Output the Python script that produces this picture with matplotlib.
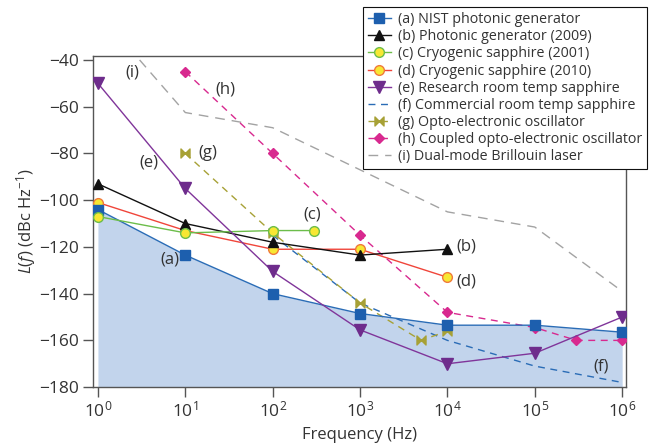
import numpy as np
import matplotlib
matplotlib.use('Agg')
import matplotlib.pyplot as plt
from matplotlib.path import Path

plt.rcParams['font.family'] = ['Open Sans', 'DejaVu Sans']
plt.rcParams['mathtext.fontset'] = 'custom'
plt.rcParams['mathtext.rm'] = 'Open Sans'
plt.rcParams['mathtext.it'] = 'Open Sans:italic'

TXT = '#333333'

# ---- data ----
freq_a = [1, 10, 100, 1e3, 1e4, 1e5, 1e6]
nist_a = [-104, -123.5, -140, -148.5, -153.5, -153.5, -156.5]

freq_b = [1, 10, 100, 1e3, 1e4]
phot_b = [-93, -110, -118, -123.5, -121]

freq_c = [1, 10, 100, 300]
cryo_c = [-107, -114, -113, -113]

freq_d = [1, 10, 100, 1e3, 1e4]
cryo_d = [-101, -113, -121, -121, -133]

freq_e = [1, 10, 100, 1e3, 1e4, 1e5, 1e6]
room_e = [-50, -95, -130.5, -155.5, -170, -165.5, -150]

freq_f = [100, 1e3, 1e4, 1e5, 1e6]
comm_f = [-115, -144, -160, -171, -178]

freq_g = [10, 100, 1e3, 5e3, 1e4]
oeo_g = [-80, -114, -144, -160, -156]

freq_h = [10, 100, 1e3, 1e4, 1e5, 3e5, 1e6]
coeo_h = [-45, -80, -115, -148, -154.5, -160, -160]

freq_i = [3, 10, 100, 1e3, 1e4, 1e5, 1e6]
bril_i = [-40, -62.5, -69, -87, -105, -111.5, -139]

labels = ["(a) NIST photonic generator",
          "(b) Photonic generator (2009)",
          "(c) Cryogenic sapphire (2001)",
          "(d) Cryogenic sapphire (2010)",
          "(e) Research room temp sapphire",
          "(f) Commercial room temp sapphire",
          "(g) Opto-electronic oscillator",
          "(h) Coupled opto-electronic oscillator",
          "(i) Dual-mode Brillouin laser"]

# tag text positions (freq, dBc)
tags = {"(i)": (2.5, -45.5), "(h)": (29, -52.5), "(g)": (18, -80),
        "(e)": (3.8, -84), "(c)": (285, -106), "(a)": (6.7, -125.5),
        "(b)": (16500, -120), "(d)": (16500, -135), "(f)": (5.8e5, -171)}

# bowtie marker for (g)
bowtie = Path([(-1, -1), (0, 0), (-1, 1), (-1, -1), (1, -1), (0, 0), (1, 1), (1, -1)],
              [Path.MOVETO, Path.LINETO, Path.LINETO, Path.CLOSEPOLY,
               Path.MOVETO, Path.LINETO, Path.LINETO, Path.CLOSEPOLY])

fig = plt.figure(figsize=(6.55, 4.46), dpi=100)
ax = fig.add_axes([0.1415, 0.132, 0.8145, 0.743])

ax.fill_between(freq_a, nist_a, -180, color='#c2d4ec', lw=0, zorder=1)
ax.plot(freq_a, nist_a, '-s', color='#2a6cb6', mfc='#1d5fae', mec='#1d5fae', ms=6.5, lw=1, label=labels[0], zorder=5)
ax.plot(freq_b, phot_b, '-^', color='#111111', ms=7.5, lw=1, label=labels[1], zorder=5)
ax.plot(freq_c, cryo_c, '-o', color='#6cbd4a', mfc='#f7e733', mec='#6cbd4a', ms=7, mew=1, lw=1, label=labels[2], zorder=5)
ax.plot(freq_d, cryo_d, '-o', color='#f0453a', mfc='#f7e733', mec='#f07a3a', ms=7, mew=1, lw=1, label=labels[3], zorder=4)
ax.plot(freq_e, room_e, '-v', color='#80359a', mfc='#6e2c8c', mec='#6e2c8c', ms=8.5, lw=1, label=labels[4], zorder=5)
ax.plot(freq_f, comm_f, '--', color='#2a6cb6', lw=1, dashes=(5, 4), label=labels[5], zorder=3)
ax.plot(freq_g, oeo_g, '--', marker=bowtie, color='#a7a136', ms=6.5, lw=1, dashes=(5, 4), label=labels[6], zorder=4)
ax.plot(freq_h, coeo_h, '--D', color='#d8298f', ms=5.5, lw=1, dashes=(5, 4), label=labels[7], zorder=4)
ax.plot(freq_i, bril_i, '--', color='#a3a3a3', lw=1, dashes=(7, 5), label=labels[8], zorder=2)

for t, (x, y) in tags.items():
    ax.text(x, y, t, ha='center', va='center', fontsize=12, color=TXT)

ax.set_xscale('log')
ax.set_xlim(10 ** -0.06, 10 ** 6.046)
ax.set_ylim(-180, -38.2)
ax.set_xticks([10.0 ** k for k in range(7)])
ax.xaxis.set_minor_locator(matplotlib.ticker.NullLocator())
ax.set_yticks(np.arange(-180, -39, 20))
ax.set_yticklabels([f"\u2212{abs(v)}" for v in range(-180, -39, 20)])
ax.tick_params(direction='out', length=7, width=1, pad=2.5, colors='#555555', labelcolor=TXT, labelsize=12.5)
for s in ax.spines.values():
    s.set_color('#555555')
    s.set_linewidth(1)

ax.set_xlabel("Frequency (Hz)", fontsize=12, color=TXT, labelpad=5)
ax.set_ylabel(r"$L(f)$ (dBc Hz$^{-1}$)", fontsize=12, color=TXT, labelpad=1)

leg = fig.legend(loc='upper left', bbox_to_anchor=(0.554, 0.984), bbox_transform=fig.transFigure,
                 fontsize=10.3, frameon=True, fancybox=False, edgecolor='#111111',
                 handlelength=1.6, handletextpad=0.5, labelspacing=0.15, borderpad=0.35,
                 borderaxespad=0, framealpha=1)
leg.get_frame().set_linewidth(0.8)
for t in leg.get_texts():
    t.set_color(TXT)

fig.savefig('out.png', dpi=100)
